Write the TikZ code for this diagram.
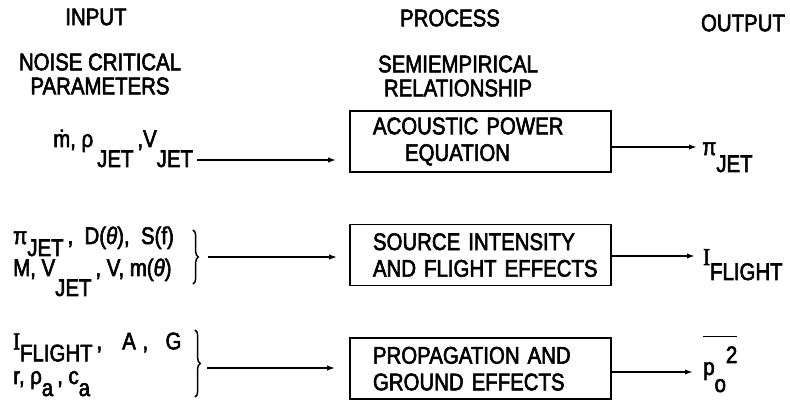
\documentclass[tikz,border=0pt]{standalone}
\usepackage{fontspec}
\setmainfont{Liberation Sans}[FakeStretch=0.85,FakeBold=2.5]
\newfontfamily\serffont{Liberation Serif}[FakeStretch=0.85,FakeBold=2.5]
\usepackage{tikz}
\usetikzlibrary{arrows.meta,positioning,decorations.pathreplacing}

\newcommand{\lowsub}[2][12pt]{\raisebox{-#1}[0pt][0pt]{#2}}

\begin{document}
\begin{tikzpicture}[
  x=0.75pt, y=-0.75pt,
  node distance=38.25pt,
  every node/.style={inner sep=0pt, font=\fontsize{18}{23}\selectfont},
  head/.style={align=center, font=\fontsize{18}{18}\selectfont},
  box/.style={
    draw,
    line width=1.2pt,
    minimum width=195.75pt,
    minimum height=45.75pt,
    inner xsep=17.25pt,
    text width=161.25pt,
    align=left,
    font=\fontsize{18}{20}\selectfont
  },
  arrow/.style={-{Latex[length=6pt,width=4pt]},line width=1.1pt},
  brc/.style={decorate,decoration={brace,amplitude=4pt},line width=1.1pt}
]
  \useasboundingbox (0,0) rectangle (790,409);

  \node[head] (input) at (96,17) {INPUT};
  \node[head] (process) at (450,18) {PROCESS};
  \node[head] (output) at (743,23) {OUTPUT};
  \node[head] (params) at (100,74) {NOISE CRITICAL\\PARAMETERS};
  \node[head] (semi) at (458,76) {SEMIEMPIRICAL\\RELATIONSHIP};

  \node[box] (acoustic) at (480.5,141.5) {\mbox{ACOUSTIC POWER}\\\hspace*{24pt}EQUATION};
  \node[box,below=of acoustic] (source) {\mbox{SOURCE INTENSITY}\\\mbox{AND FLIGHT EFFECTS}};
  \node[box,below=of source] (propag) {\mbox{PROPAGATION AND}\\\mbox{GROUND EFFECTS}};

  \node[anchor=base west] (jetin) at (53,147)
    {\.{m}, ρ\,\lowsub[15pt]{JET}\,,V\lowsub[15pt]{JET}};
  \node[anchor=base west,align=left,font=\fontsize{18}{24}\selectfont] (srcin) at (13,276)
    {π\lowsub[9pt]{JET}\,,\ \ D(\textit{θ}),\ \ S(f)\\M,\ V\lowsub[15pt]{JET}\,,\ V, m(\textit{θ})};
  \node[anchor=base west,align=left,font=\fontsize{18}{26}\selectfont] (propin) at (13,384)
    {{\serffont I}\lowsub[9pt]{FLIGHT}\,,\hspace{15pt}A\hspace{5pt},\hspace{13pt}G\\r, ρ\lowsub[9pt]{a}\,, c\lowsub[9pt]{a}};

  \node[anchor=base west] (jetout) at (702,155) {π\lowsub[12.75pt]{JET}};
  \node[anchor=base west] (srcout) at (703,265) {{\serffont I}\lowsub[11.25pt]{FLIGHT}};
  \node[anchor=base west] (propout) at (703,375)
    {$\overline{\hbox{p\lowsub[12.75pt]{o}\raisebox{9pt}[27.5pt]{2}}}$};

  % braces round the input groups
  \draw[brc] (193,230) -- (193,284);
  \draw[brc] (195,330) -- (195,397);
  \coordinate (a1) at (197,160);
  \coordinate (a2) at (208,257);
  \coordinate (a3) at (207,368);

  \draw[arrow,shorten >=9.75pt] (a1) -- (a1 -| acoustic.west);
  \draw[arrow,shorten >=9pt] (a2) -- (a2 -| source.west);
  \draw[arrow,shorten >=10.5pt] (a3) -- (a3 -| propag.west);

  \draw[arrow,shorten >=3.75pt] (acoustic.east |- 0,147) -- (jetout.west |- 0,147);
  \draw[arrow,shorten >=6pt] (source.east |- 0,256) -- (srcout.west |- 0,256);
  \draw[arrow,shorten >=7.5pt] (propag.east |- 0,372) -- (propout.west |- 0,372);
\end{tikzpicture}
\end{document}
